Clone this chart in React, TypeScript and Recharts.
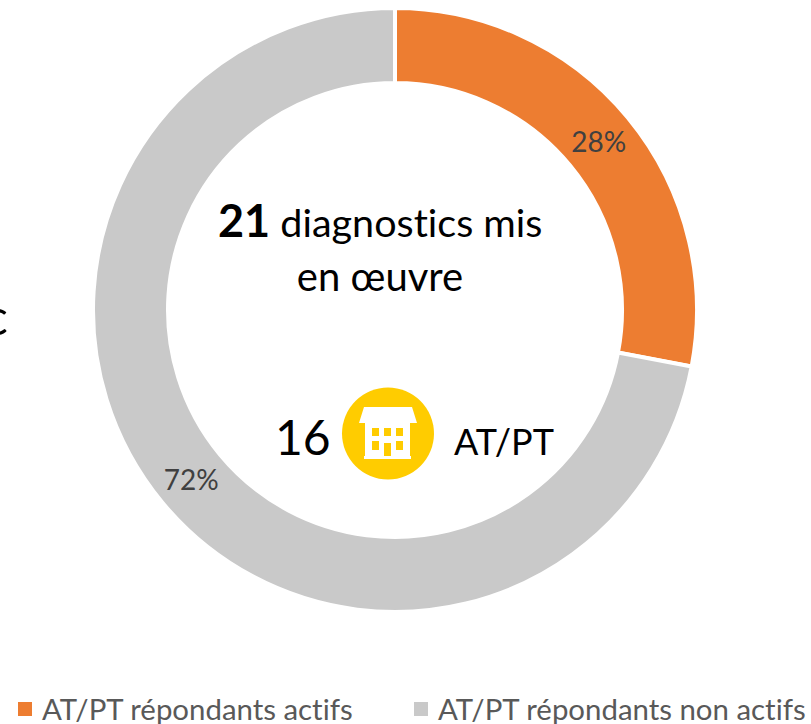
import { PieChart, Pie, Cell, Legend } from "recharts";

const categories = ["AT/PT répondants actifs", "AT/PT répondants non actifs"];
const shares = [28, 72];
const colors = ["#ED7D31", "#C9C9C9"];

const data = categories.map((name, i) => ({ name, value: shares[i] }));

const FONT = "Lato, 'Open Sans', sans-serif";
const RAD = Math.PI / 180;

function renderLabel(props: any) {
  const { cx, cy, midAngle, innerRadius, outerRadius, value } = props;
  const r = (innerRadius + outerRadius) / 2;
  const x = cx + r * Math.cos(-midAngle * RAD);
  const y = cy + r * Math.sin(-midAngle * RAD);
  return (
    <text
      x={x}
      y={y}
      fill="#404040"
      fontSize={28}
      fontFamily={FONT}
      textAnchor="middle"
      dominantBaseline="central"
    >
      {`${value}%`}
    </text>
  );
}

function renderLegend(props: any) {
  const { payload } = props;
  return (
    <div style={{ display: "flex", alignItems: "center", height: 30, lineHeight: "30px", fontSize: 29.4, fontFamily: FONT, color: "#595959", fontVariantLigatures: "none", whiteSpace: "nowrap" }}>
      {payload.map((entry: any, i: number) => (
        <div key={entry.value} style={{ display: "flex", alignItems: "center", flexShrink: 0, width: i === 0 ? 396 : 376 }}>
          <span style={{ flexShrink: 0, width: 14, height: 14, marginRight: 10, background: entry.color, display: "inline-block" }} />
          <span>{entry.value}</span>
        </div>
      ))}
    </div>
  );
}

function BuildingIcon() {
  return (
    <g>
      <circle cx={388} cy={433.5} r={46} fill="#FFCC00" />
      <path d="M364 407 H412 L417 423 H359 Z" fill="#fff" />
      <path
        fillRule="evenodd"
        fill="#fff"
        d="M365 423 H410 V456 H411 V459 H364 V456 H365 Z
           M372 428 V436 H379 V428 Z M384 428 V436 H391 V428 Z M396 428 V436 H403 V428 Z
           M372 441 V450 H379 V441 Z M384 443 V456 H391 V443 Z M396 441 V450 H403 V441 Z"
      />
    </g>
  );
}

const textStyle = { fontVariantLigatures: "none" } as const;

export default function App() {
  return (
    <div style={{ position: "absolute", left: 0, top: 0, width: 811, height: 724, overflow: "hidden", fontFamily: FONT }}>
      <PieChart width={811} height={724} margin={{ top: 0, right: 0, bottom: 0, left: 0 }}>
        <Pie
          data={data}
          dataKey="value"
          nameKey="name"
          cx={395}
          cy={310}
          innerRadius={227}
          outerRadius={302}
          startAngle={90}
          endAngle={-270}
          stroke="#fff"
          strokeWidth={4}
          label={renderLabel}
          labelLine={false}
          isAnimationActive={false}
        >
          {data.map((d, i) => (
            <Cell key={d.name} fill={colors[i]} />
          ))}
        </Pie>
        <Legend
          content={renderLegend}
          wrapperStyle={{ position: "absolute", left: 18, top: 694, width: 790 }}
        />
        <text x={218} y={237} fontSize={39.5} fill="#000" fontFamily={FONT} style={textStyle}>
          <tspan fontWeight={700} fontSize={45}>21</tspan> diagnostics mis
        </text>
        <text x={380} y={291} fontSize={40} fill="#000" fontFamily={FONT} textAnchor="middle" style={textStyle}>
          en œuvre
        </text>
        <text x={275} y={455} fontSize={48} fill="#000" fontFamily={FONT}>
          16
        </text>
        <BuildingIcon />
        <text x={454} y={455} fontSize={36} fill="#000" fontFamily={FONT}>
          AT/PT
        </text>
        <text x={8} y={335} fontSize={50} fill="#000" fontFamily={FONT} textAnchor="end">
          c
        </text>
      </PieChart>
    </div>
  );
}
